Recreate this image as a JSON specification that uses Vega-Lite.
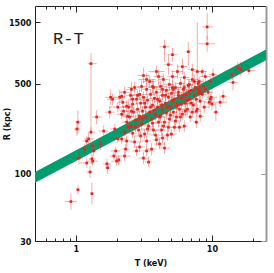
{
"$schema": "https://vega.github.io/schema/vega-lite/v6.json",
"width": 231, "height": 235,
"autosize": {"type": "none"},
"padding": {"left": 35, "top": 6, "right": 8, "bottom": 32},
"background": "white",
"config": {
 "view": {"stroke": null},
 "axis": {"grid": false, "labelFont": "Liberation Sans Narrow, DejaVu Sans Condensed, Liberation Sans", "labelFontWeight": "bold", "labelFontSize": 9, "labelColor": "#111", "titleFont": "Liberation Sans Narrow, DejaVu Sans Condensed, Liberation Sans", "titleFontWeight": "bold", "titleFontSize": 9, "titleColor": "#111", "domainColor": "#222", "tickColor": "#222", "domainWidth": 1, "labelOverlap": false, "labelFlush": false}
},
"datasets": {
 "band": [{"T": 0.5, "lo": 85, "hi": 103}, {"T": 25, "lo": 757, "hi": 921}],
 "lab": [{"T": 0.679, "R": 1018, "label": "R-T"}],
 "pts": [
{"T":0.919,"Tl":0.831,"Th":1.017,"R":60.7,"Rl":52.6,"Rh":69.9},
{"T":1.034,"Tl":1.0,"Th":1.07,"R":75.0,"Rl":68.7,"Rh":81.9},
{"T":1.31,"Tl":1.27,"Th":1.35,"R":69.9,"Rl":57.5,"Rh":84.9},
{"T":1.27,"Tl":1.20,"Th":1.33,"R":103,"Rl":92.7,"Rh":115},
{"T":1.20,"Tl":1.07,"Th":1.35,"R":121,"Rl":111,"Rh":132},
{"T":1.33,"Tl":1.22,"Th":1.45,"R":125,"Rl":115,"Rh":137},
{"T":1.052,"Tl":0.983,"Th":1.125,"R":132,"Rl":119,"Rh":147},
{"T":1.16,"Tl":1.088,"Th":1.24,"R":155,"Rl":142,"Rh":170},
{"T":1.24,"Tl":1.144,"Th":1.35,"R":186,"Rl":167,"Rh":207},
{"T":1.034,"Tl":0.983,"Th":1.088,"R":251,"Rl":203,"Rh":310},
{"T":1.017,"Tl":0.967,"Th":1.07,"R":222,"Rl":196,"Rh":256},
{"T":1.29,"Tl":1.22,"Th":1.42,"R":714,"Rl":203,"Rh":867},
{"T":1.42,"Tl":1.31,"Th":1.55,"R":275,"Rl":242,"Rh":310},
{"T":1.20,"Tl":1.125,"Th":1.29,"R":179,"Rl":164,"Rh":196},
{"T":1.33,"Tl":1.22,"Th":1.45,"R":164,"Rl":152,"Rh":176},
{"T":1.35,"Tl":1.29,"Th":1.42,"R":150,"Rl":137,"Rh":164},
{"T":1.31,"Tl":1.24,"Th":1.40,"R":130,"Rl":117,"Rh":144},
{"T":1.69,"Tl":1.58,"Th":1.80,"R":119,"Rl":109,"Rh":130},
{"T":1.71,"Tl":1.63,"Th":1.80,"R":111,"Rl":99.6,"Rh":123},
{"T":1.99,"Tl":1.83,"Th":2.17,"R":125,"Rl":115,"Rh":137},
{"T":1.90,"Tl":1.77,"Th":2.03,"R":137,"Rl":128,"Rh":147},
{"T":2.06,"Tl":1.96,"Th":2.17,"R":128,"Rl":117,"Rh":139},
{"T":2.28,"Tl":2.06,"Th":2.52,"R":137,"Rl":125,"Rh":150},
{"T":1.96,"Tl":1.80,"Th":2.13,"R":150,"Rl":139,"Rh":161},
{"T":2.36,"Tl":2.13,"Th":2.61,"R":179,"Rl":161,"Rh":199},
{"T":2.17,"Tl":1.99,"Th":2.36,"R":186,"Rl":170,"Rh":203},
{"T":1.80,"Tl":1.63,"Th":1.99,"R":391,"Rl":340,"Rh":451},
{"T":1.77,"Tl":1.63,"Th":1.93,"R":300,"Rl":269,"Rh":334},
{"T":2.03,"Tl":1.77,"Th":2.32,"R":328,"Rl":300,"Rh":358},
{"T":2.21,"Tl":2.03,"Th":2.40,"R":358,"Rl":322,"Rh":398},
{"T":2.17,"Tl":2.03,"Th":2.32,"R":398,"Rl":365,"Rh":435},
{"T":2.28,"Tl":2.10,"Th":2.48,"R":428,"Rl":384,"Rh":475},
{"T":1.93,"Tl":1.80,"Th":2.06,"R":222,"Rl":203,"Rh":242},
{"T":2.03,"Tl":1.90,"Th":2.17,"R":186,"Rl":173,"Rh":199},
{"T":2.28,"Tl":2.10,"Th":2.48,"R":210,"Rl":196,"Rh":229},
{"T":2.36,"Tl":2.17,"Th":2.56,"R":251,"Rl":226,"Rh":279},
{"T":2.40,"Tl":2.17,"Th":2.65,"R":279,"Rl":251,"Rh":310},
{"T":2.17,"Tl":1.99,"Th":2.36,"R":289,"Rl":265,"Rh":316},
{"T":1.52,"Tl":1.38,"Th":1.66,"R":170,"Rl":152,"Rh":189},
{"T":1.60,"Tl":1.47,"Th":1.74,"R":214,"Rl":196,"Rh":238},
{"T":1.29,"Tl":1.22,"Th":1.38,"R":210,"Rl":196,"Rh":229},
{"T":1.86,"Tl":1.69,"Th":2.06,"R":378,"Rl":340,"Rh":420},
{"T":2.10,"Tl":1.93,"Th":2.28,"R":391,"Rl":340,"Rh":451},
{"T":2.24,"Tl":2.10,"Th":2.40,"R":305,"Rl":279,"Rh":334},
{"T":2.56,"Tl":2.32,"Th":2.84,"R":451,"Rl":391,"Rh":519},
{"T":2.61,"Tl":2.40,"Th":2.84,"R":378,"Rl":346,"Rh":412},
{"T":2.36,"Tl":2.17,"Th":2.56,"R":334,"Rl":300,"Rh":371},
{"T":4.48,"Tl":4.12,"Th":4.87,"R":965,"Rl":740,"Rh":1093},
{"T":5.13,"Tl":4.71,"Th":5.58,"R":838,"Rl":740,"Rh":948},
{"T":6.71,"Tl":6.38,"Th":7.06,"R":883,"Rl":689,"Rh":1055},
{"T":4.79,"Tl":4.48,"Th":5.13,"R":702,"Rl":588,"Rh":838},
{"T":7.81,"Tl":7.30,"Th":8.35,"R":620,"Rl":412,"Rh":1503},
{"T":3.91,"Tl":3.42,"Th":4.48,"R":620,"Rl":567,"Rh":689},
{"T":6.07,"Tl":5.58,"Th":6.60,"R":677,"Rl":588,"Rh":781},
{"T":7.18,"Tl":6.71,"Th":7.68,"R":642,"Rl":577,"Rh":714},
{"T":3.31,"Tl":2.89,"Th":3.85,"R":538,"Rl":483,"Rh":599},
{"T":3.04,"Tl":2.79,"Th":3.31,"R":475,"Rl":428,"Rh":528},
{"T":3.66,"Tl":3.36,"Th":3.98,"R":475,"Rl":420,"Rh":538},
{"T":4.33,"Tl":3.98,"Th":4.71,"R":451,"Rl":412,"Rh":492},
{"T":5.13,"Tl":4.71,"Th":5.58,"R":466,"Rl":420,"Rh":519},
{"T":6.27,"Tl":5.77,"Th":6.82,"R":466,"Rl":420,"Rh":519},
{"T":6.82,"Tl":6.38,"Th":7.30,"R":492,"Rl":451,"Rh":538},
{"T":7.42,"Tl":6.82,"Th":8.07,"R":519,"Rl":458,"Rh":588},
{"T":9.23,"Tl":8.49,"Th":10.2,"R":1376,"Rl":1093,"Rh":1764},
{"T":9.23,"Tl":7.94,"Th":10.6,"R":1018,"Rl":883,"Rh":1172},
{"T":15.5,"Tl":14.3,"Th":17.0,"R":666,"Rl":599,"Rh":740},
{"T":16.3,"Tl":15.2,"Th":17.5,"R":642,"Rl":567,"Rh":740},
{"T":18.7,"Tl":16.8,"Th":20.8,"R":630,"Rl":588,"Rh":677},
{"T":14.1,"Tl":12.9,"Th":15.5,"R":588,"Rl":538,"Rh":642},
{"T":14.3,"Tl":13.3,"Th":15.5,"R":510,"Rl":443,"Rh":588},
{"T":8.49,"Tl":7.81,"Th":9.23,"R":620,"Rl":567,"Rh":666},
{"T":8.93,"Tl":8.21,"Th":9.71,"R":567,"Rl":501,"Rh":620},
{"T":9.71,"Tl":8.93,"Th":10.6,"R":519,"Rl":475,"Rh":567},
{"T":8.63,"Tl":7.94,"Th":9.39,"R":475,"Rl":412,"Rh":548},
{"T":10.2,"Tl":9.55,"Th":10.9,"R":588,"Rl":528,"Rh":654},
{"T":8.07,"Tl":7.55,"Th":8.63,"R":519,"Rl":475,"Rh":567},
{"T":8.21,"Tl":7.55,"Th":8.93,"R":435,"Rl":391,"Rh":483},
{"T":9.39,"Tl":8.63,"Th":10.2,"R":428,"Rl":391,"Rh":466},
{"T":9.88,"Tl":9.08,"Th":10.9,"R":391,"Rl":352,"Rh":435},
{"T":10.0,"Tl":9.39,"Th":10.7,"R":346,"Rl":310,"Rh":384},
{"T":11.5,"Tl":10.2,"Th":13.0,"R":358,"Rl":328,"Rh":391},
{"T":12.1,"Tl":11.3,"Th":12.9,"R":398,"Rl":358,"Rh":443},
{"T":10.7,"Tl":10.2,"Th":11.3,"R":300,"Rl":256,"Rh":352},
{"T":8.21,"Tl":7.68,"Th":8.78,"R":279,"Rl":251,"Rh":310},
{"T":7.81,"Tl":7.30,"Th":8.35,"R":316,"Rl":289,"Rh":346},
{"T":8.21,"Tl":7.55,"Th":8.93,"R":365,"Rl":334,"Rh":398},
{"T":7.68,"Tl":7.30,"Th":8.07,"R":251,"Rl":226,"Rh":279},
{"T":9.71,"Tl":8.93,"Th":10.6,"R":378,"Rl":346,"Rh":412},
{"T":9.55,"Tl":8.78,"Th":10.4,"R":358,"Rl":322,"Rh":398},
{"T":2.44,"Tl":2.21,"Th":2.70,"R":328,"Rl":289,"Rh":371},
{"T":2.48,"Tl":2.28,"Th":2.70,"R":275,"Rl":251,"Rh":300},
{"T":2.52,"Tl":2.36,"Th":2.70,"R":405,"Rl":365,"Rh":451},
{"T":2.56,"Tl":2.32,"Th":2.84,"R":234,"Rl":214,"Rh":256},
{"T":2.61,"Tl":2.40,"Th":2.84,"R":346,"Rl":310,"Rh":384},
{"T":2.65,"Tl":2.48,"Th":2.84,"R":300,"Rl":275,"Rh":328},
{"T":2.70,"Tl":2.48,"Th":2.94,"R":176,"Rl":158,"Rh":196},
{"T":2.70,"Tl":2.40,"Th":3.04,"R":466,"Rl":420,"Rh":519},
{"T":2.74,"Tl":2.52,"Th":2.99,"R":260,"Rl":238,"Rh":284},
{"T":2.79,"Tl":2.61,"Th":2.99,"R":150,"Rl":137,"Rh":164},
{"T":2.79,"Tl":2.52,"Th":3.09,"R":378,"Rl":346,"Rh":412},
{"T":2.84,"Tl":2.61,"Th":3.09,"R":316,"Rl":279,"Rh":358},
{"T":2.89,"Tl":2.65,"Th":3.14,"R":218,"Rl":196,"Rh":242},
{"T":2.94,"Tl":2.65,"Th":3.25,"R":412,"Rl":371,"Rh":458},
{"T":2.94,"Tl":2.74,"Th":3.14,"R":279,"Rl":256,"Rh":305},
{"T":2.99,"Tl":2.74,"Th":3.25,"R":352,"Rl":322,"Rh":384},
{"T":3.04,"Tl":2.74,"Th":3.36,"R":242,"Rl":218,"Rh":269},
{"T":3.14,"Tl":2.84,"Th":3.48,"R":577,"Rl":501,"Rh":666},
{"T":3.09,"Tl":2.84,"Th":3.36,"R":305,"Rl":279,"Rh":334},
{"T":3.14,"Tl":2.94,"Th":3.36,"R":391,"Rl":352,"Rh":435},
{"T":3.14,"Tl":2.89,"Th":3.42,"R":132,"Rl":119,"Rh":147},
{"T":3.20,"Tl":2.89,"Th":3.54,"R":203,"Rl":186,"Rh":222},
{"T":3.25,"Tl":2.99,"Th":3.54,"R":328,"Rl":295,"Rh":365},
{"T":3.25,"Tl":3.04,"Th":3.48,"R":275,"Rl":251,"Rh":300},
{"T":3.31,"Tl":3.09,"Th":3.54,"R":150,"Rl":137,"Rh":164},
{"T":3.31,"Tl":3.04,"Th":3.60,"R":451,"Rl":405,"Rh":501},
{"T":3.36,"Tl":3.04,"Th":3.72,"R":371,"Rl":340,"Rh":405},
{"T":3.42,"Tl":3.14,"Th":3.72,"R":234,"Rl":210,"Rh":260},
{"T":3.48,"Tl":3.25,"Th":3.72,"R":300,"Rl":275,"Rh":328},
{"T":3.48,"Tl":3.14,"Th":3.85,"R":519,"Rl":466,"Rh":577},
{"T":3.54,"Tl":3.25,"Th":3.85,"R":412,"Rl":378,"Rh":451},
{"T":3.60,"Tl":3.31,"Th":3.91,"R":155,"Rl":139,"Rh":173},
{"T":3.60,"Tl":3.31,"Th":3.91,"R":265,"Rl":242,"Rh":289},
{"T":3.66,"Tl":3.42,"Th":3.91,"R":340,"Rl":305,"Rh":378},
{"T":3.72,"Tl":3.42,"Th":4.05,"R":466,"Rl":412,"Rh":528},
{"T":3.72,"Tl":3.42,"Th":4.05,"R":218,"Rl":199,"Rh":238},
{"T":3.78,"Tl":3.42,"Th":4.19,"R":384,"Rl":352,"Rh":420},
{"T":3.85,"Tl":3.54,"Th":4.19,"R":289,"Rl":260,"Rh":322},
{"T":3.91,"Tl":3.66,"Th":4.19,"R":183,"Rl":164,"Rh":203},
{"T":3.91,"Tl":3.60,"Th":4.26,"R":428,"Rl":391,"Rh":466},
{"T":3.98,"Tl":3.60,"Th":4.40,"R":328,"Rl":295,"Rh":365},
{"T":4.05,"Tl":3.72,"Th":4.40,"R":567,"Rl":483,"Rh":642},
{"T":4.05,"Tl":3.78,"Th":4.33,"R":251,"Rl":229,"Rh":275},
{"T":4.12,"Tl":3.78,"Th":4.48,"R":365,"Rl":334,"Rh":398},
{"T":4.19,"Tl":3.78,"Th":4.63,"R":475,"Rl":428,"Rh":528},
{"T":4.19,"Tl":3.85,"Th":4.56,"R":279,"Rl":256,"Rh":305},
{"T":4.26,"Tl":3.91,"Th":4.63,"R":218,"Rl":196,"Rh":242},
{"T":4.33,"Tl":4.05,"Th":4.63,"R":405,"Rl":371,"Rh":443},
{"T":4.33,"Tl":3.91,"Th":4.79,"R":316,"Rl":284,"Rh":352},
{"T":4.40,"Tl":4.05,"Th":4.79,"R":538,"Rl":483,"Rh":599},
{"T":4.48,"Tl":4.12,"Th":4.87,"R":251,"Rl":229,"Rh":275},
{"T":4.48,"Tl":4.05,"Th":4.96,"R":158,"Rl":142,"Rh":176},
{"T":4.56,"Tl":4.19,"Th":4.96,"R":352,"Rl":316,"Rh":391},
{"T":4.63,"Tl":4.33,"Th":4.96,"R":443,"Rl":405,"Rh":483},
{"T":4.63,"Tl":4.26,"Th":5.04,"R":295,"Rl":269,"Rh":322},
{"T":4.71,"Tl":4.33,"Th":5.13,"R":199,"Rl":179,"Rh":222},
{"T":4.79,"Tl":4.33,"Th":5.30,"R":391,"Rl":358,"Rh":428},
{"T":4.87,"Tl":4.48,"Th":5.30,"R":492,"Rl":443,"Rh":548},
{"T":4.87,"Tl":4.56,"Th":5.21,"R":265,"Rl":238,"Rh":295},
{"T":4.96,"Tl":4.56,"Th":5.39,"R":328,"Rl":300,"Rh":358},
{"T":5.04,"Tl":4.63,"Th":5.49,"R":203,"Rl":186,"Rh":222},
{"T":5.04,"Tl":4.63,"Th":5.49,"R":420,"Rl":378,"Rh":466},
{"T":5.13,"Tl":4.71,"Th":5.58,"R":567,"Rl":510,"Rh":630},
{"T":5.21,"Tl":4.79,"Th":5.67,"R":300,"Rl":275,"Rh":328},
{"T":5.30,"Tl":4.87,"Th":5.77,"R":378,"Rl":340,"Rh":420},
{"T":5.30,"Tl":4.96,"Th":5.67,"R":229,"Rl":210,"Rh":251},
{"T":5.39,"Tl":4.96,"Th":5.87,"R":466,"Rl":428,"Rh":510},
{"T":5.49,"Tl":5.04,"Th":5.97,"R":275,"Rl":246,"Rh":305},
{"T":5.58,"Tl":5.21,"Th":5.97,"R":346,"Rl":316,"Rh":378},
{"T":5.58,"Tl":5.04,"Th":6.17,"R":620,"Rl":547,"Rh":702},
{"T":5.67,"Tl":5.21,"Th":6.17,"R":428,"Rl":384,"Rh":475},
{"T":5.77,"Tl":5.30,"Th":6.27,"R":229,"Rl":210,"Rh":251},
{"T":5.77,"Tl":5.21,"Th":6.38,"R":316,"Rl":284,"Rh":352},
{"T":5.87,"Tl":5.39,"Th":6.38,"R":501,"Rl":458,"Rh":547},
{"T":5.97,"Tl":5.58,"Th":6.38,"R":384,"Rl":346,"Rh":428},
{"T":6.07,"Tl":5.58,"Th":6.60,"R":289,"Rl":265,"Rh":316},
{"T":6.17,"Tl":5.67,"Th":6.71,"R":451,"Rl":405,"Rh":501},
{"T":6.27,"Tl":5.87,"Th":6.71,"R":234,"Rl":210,"Rh":260},
{"T":6.27,"Tl":5.77,"Th":6.82,"R":557,"Rl":510,"Rh":620},
{"T":6.38,"Tl":5.87,"Th":6.94,"R":352,"Rl":322,"Rh":384},
{"T":6.49,"Tl":5.87,"Th":7.18,"R":412,"Rl":378,"Rh":451},
{"T":6.60,"Tl":6.17,"Th":7.06,"R":316,"Rl":284,"Rh":352},
{"T":6.71,"Tl":6.17,"Th":7.30,"R":483,"Rl":443,"Rh":528},
{"T":6.82,"Tl":6.27,"Th":7.42,"R":378,"Rl":340,"Rh":420},
{"T":6.94,"Tl":6.49,"Th":7.42,"R":275,"Rl":251,"Rh":300},
{"T":7.06,"Tl":6.49,"Th":7.68,"R":443,"Rl":405,"Rh":483},
{"T":7.18,"Tl":6.49,"Th":7.94,"R":538,"Rl":483,"Rh":599},
{"T":7.30,"Tl":6.82,"Th":7.81,"R":340,"Rl":310,"Rh":371},
{"T":7.42,"Tl":6.82,"Th":8.07,"R":405,"Rl":371,"Rh":443},
{"T":7.55,"Tl":7.06,"Th":8.07,"R":466,"Rl":420,"Rh":519},
{"T":7.68,"Tl":7.06,"Th":8.35,"R":305,"Rl":279,"Rh":334},
{"T":7.94,"Tl":7.30,"Th":8.63,"R":501,"Rl":458,"Rh":547},
{"T":8.07,"Tl":7.55,"Th":8.63,"R":420,"Rl":378,"Rh":466},
{"T":2.94,"Tl":2.70,"Th":3.20,"R":161,"Rl":147,"Rh":176},
{"T":3.42,"Tl":3.20,"Th":3.66,"R":123,"Rl":113,"Rh":135},
{"T":4.12,"Tl":3.78,"Th":4.48,"R":170,"Rl":155,"Rh":186},
{"T":2.56,"Tl":2.36,"Th":2.79,"R":305,"Rl":275,"Rh":340},
{"T":2.74,"Tl":2.56,"Th":2.94,"R":229,"Rl":210,"Rh":251},
{"T":2.84,"Tl":2.61,"Th":3.09,"R":405,"Rl":371,"Rh":443},
{"T":2.99,"Tl":2.70,"Th":3.31,"R":196,"Rl":173,"Rh":214},
{"T":3.09,"Tl":2.84,"Th":3.36,"R":265,"Rl":242,"Rh":289},
{"T":3.20,"Tl":2.99,"Th":3.42,"R":352,"Rl":316,"Rh":391},
{"T":3.36,"Tl":3.09,"Th":3.66,"R":222,"Rl":203,"Rh":242},
{"T":3.54,"Tl":3.25,"Th":3.85,"R":328,"Rl":300,"Rh":358},
{"T":3.66,"Tl":3.36,"Th":3.98,"R":246,"Rl":222,"Rh":275},
{"T":3.78,"Tl":3.54,"Th":4.05,"R":310,"Rl":284,"Rh":340},
{"T":3.85,"Tl":3.54,"Th":4.19,"R":199,"Rl":183,"Rh":218},
{"T":3.98,"Tl":3.66,"Th":4.33,"R":378,"Rl":346,"Rh":412},
{"T":4.12,"Tl":3.72,"Th":4.56,"R":275,"Rl":246,"Rh":305},
{"T":4.26,"Tl":3.98,"Th":4.56,"R":340,"Rl":310,"Rh":371},
{"T":4.40,"Tl":4.05,"Th":4.79,"R":234,"Rl":214,"Rh":256},
{"T":4.56,"Tl":4.19,"Th":4.96,"R":405,"Rl":365,"Rh":451},
{"T":4.71,"Tl":4.40,"Th":5.04,"R":328,"Rl":300,"Rh":358},
{"T":4.79,"Tl":4.40,"Th":5.21,"R":229,"Rl":210,"Rh":251},
{"T":4.96,"Tl":4.56,"Th":5.39,"R":284,"Rl":256,"Rh":316},
{"T":5.13,"Tl":4.79,"Th":5.49,"R":371,"Rl":340,"Rh":405},
{"T":5.21,"Tl":4.79,"Th":5.67,"R":451,"Rl":412,"Rh":492},
{"T":5.39,"Tl":4.96,"Th":5.87,"R":256,"Rl":234,"Rh":279},
{"T":5.49,"Tl":5.13,"Th":5.87,"R":328,"Rl":295,"Rh":365},
{"T":5.67,"Tl":5.21,"Th":6.17,"R":405,"Rl":371,"Rh":443},
{"T":5.87,"Tl":5.49,"Th":6.27,"R":275,"Rl":251,"Rh":300},
{"T":5.97,"Tl":5.39,"Th":6.60,"R":346,"Rl":310,"Rh":384},
{"T":6.17,"Tl":5.77,"Th":6.60,"R":405,"Rl":371,"Rh":443},
{"T":6.38,"Tl":5.87,"Th":6.94,"R":305,"Rl":279,"Rh":334},
{"T":6.60,"Tl":6.07,"Th":7.18,"R":371,"Rl":334,"Rh":412},
{"T":6.82,"Tl":6.38,"Th":7.30,"R":435,"Rl":398,"Rh":475},
{"T":7.06,"Tl":6.49,"Th":7.68,"R":352,"Rl":322,"Rh":384},
{"T":7.18,"Tl":6.71,"Th":7.68,"R":300,"Rl":275,"Rh":328},
{"T":7.68,"Tl":7.06,"Th":8.35,"R":378,"Rl":340,"Rh":420},
{"T":7.94,"Tl":7.42,"Th":8.49,"R":451,"Rl":412,"Rh":492},
{"T":8.49,"Tl":7.81,"Th":9.23,"R":412,"Rl":378,"Rh":451},
{"T":8.78,"Tl":8.07,"Th":9.55,"R":328,"Rl":295,"Rh":365},
{"T":8.93,"Tl":8.35,"Th":9.55,"R":451,"Rl":412,"Rh":492},
{"T":2.89,"Tl":2.65,"Th":3.14,"R":265,"Rl":242,"Rh":289},
{"T":2.61,"Tl":2.44,"Th":2.79,"R":206,"Rl":189,"Rh":226},
{"T":3.31,"Tl":3.04,"Th":3.60,"R":179,"Rl":164,"Rh":196},
{"T":4.33,"Tl":3.98,"Th":4.71,"R":189,"Rl":173,"Rh":207},
{"T":2.44,"Tl":2.24,"Th":2.65,"R":229,"Rl":207,"Rh":256},
{"T":2.32,"Tl":2.17,"Th":2.48,"R":155,"Rl":142,"Rh":170}
 ]
},
"resolve": {"axis": {"x": "independent", "y": "independent"}},
"layer": [
 {
  "data": {"name": "band"},
  "mark": {"type": "area", "color": "#009e6e", "opacity": 1},
  "encoding": {
   "x": {"field": "T", "type": "quantitative", "scale": {"type": "log", "domain": [0.5, 25]},
    "axis": {"orient": "bottom", "values": [0.6,0.7,0.8,0.9,1,2,3,4,5,6,7,8,9,10,20], "labelExpr": "datum.value == 1 || datum.value == 10 ? datum.value + '' : ''", "tickSize": {"condition": {"test": "datum.value == 1 || datum.value == 10", "value": -6}, "value": -3}, "labelPadding": 9, "title": "T (keV)", "titlePadding": 2}},
   "y": {"field": "lo", "type": "quantitative", "scale": {"type": "log", "domain": [30, 2000]},
    "axis": {"orient": "left", "values": [30, 100, 500, 1500], "format": "d", "tickSize": -5, "labelPadding": 9, "title": "R (kpc)", "titlePadding": -3}},
   "y2": {"field": "hi"}
  }
 },
 {
  "data": {"name": "pts"},
  "mark": {"type": "rule", "color": "#e8302a", "opacity": 0.4, "strokeWidth": 1},
  "encoding": {
   "x": {"field": "Tl", "type": "quantitative", "scale": {"type": "log", "domain": [0.5, 25]},
    "axis": {"orient": "top", "values": [0.6,0.7,0.8,0.9,1,2,3,4,5,6,7,8,9,10,20], "labels": false, "tickSize": {"condition": {"test": "datum.value == 1 || datum.value == 10", "value": -6}, "value": -3}, "title": null}},
   "x2": {"field": "Th"},
   "y": {"field": "R", "type": "quantitative", "scale": {"type": "log", "domain": [30, 2000]},
    "axis": {"orient": "right", "values": [30, 100, 500, 1500], "labels": false, "tickSize": -5, "title": null, "domainColor": "#999", "domainWidth": 2, "tickColor": "#999"}}
  }
 },
 {
  "data": {"name": "pts"},
  "mark": {"type": "rule", "color": "#e8302a", "opacity": 0.4, "strokeWidth": 1},
  "encoding": {
   "x": {"field": "T", "type": "quantitative", "scale": {"type": "log", "domain": [0.5, 25]}, "axis": null},
   "y": {"field": "Rl", "type": "quantitative", "scale": {"type": "log", "domain": [30, 2000]}, "axis": null},
   "y2": {"field": "Rh"}
  }
 },
 {
  "data": {"name": "pts"},
  "mark": {"type": "square", "color": "#e8231b", "filled": true, "opacity": 1, "size": 7},
  "encoding": {
   "x": {"field": "T", "type": "quantitative", "scale": {"type": "log", "domain": [0.5, 25]}, "axis": null},
   "y": {"field": "R", "type": "quantitative", "scale": {"type": "log", "domain": [30, 2000]}, "axis": null}
  }
 },
 {
  "data": {"name": "lab"},
  "mark": {"type": "text", "font": "Liberation Mono", "fontSize": 17, "align": "left", "baseline": "alphabetic", "color": "#222"},
  "encoding": {
   "x": {"field": "T", "type": "quantitative", "scale": {"type": "log", "domain": [0.5, 25]}, "axis": null},
   "y": {"field": "R", "type": "quantitative", "scale": {"type": "log", "domain": [30, 2000]}, "axis": null},
   "text": {"field": "label"}
  }
 }
]
}
